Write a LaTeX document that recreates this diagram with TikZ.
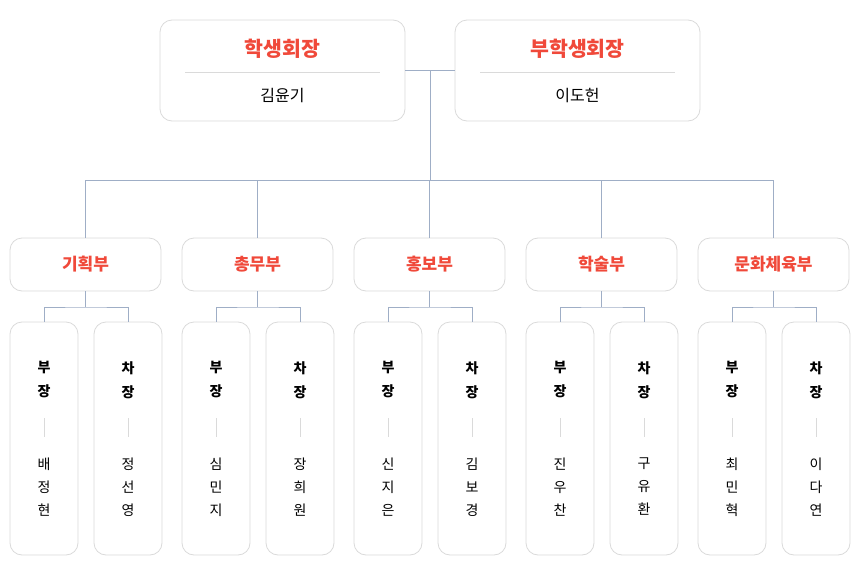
\documentclass[tikz,border=0pt]{standalone}
\usepackage{fontspec}
\setmainfont{Noto Sans CJK KR}
\definecolor{red1}{HTML}{F0493A}
\definecolor{ln}{HTML}{9FAEC6}
\definecolor{bd}{HTML}{DADADA}
\begin{document}
\begin{tikzpicture}[x=1pt,y=-1pt,
 box/.style={draw=bd,line width=0.8pt,fill=white,rounded corners=12pt,inner sep=0pt},
 conn/.style={draw=ln,line width=0.7pt},
 ttl/.style={text=red1,font=\fontsize{20.5}{22}\selectfont\bfseries},
 nm/.style={font=\fontsize{16}{17}\selectfont},
 dp/.style={text=red1,font=\fontsize{17}{18}\selectfont\bfseries},
 sb/.style={font=\fontsize{14}{24}\selectfont\bfseries,align=center},
 sn/.style={font=\fontsize{14}{23}\selectfont,align=center}]
\useasboundingbox (0,0) rectangle (860,581);
% top
\node[box,minimum width=245pt,minimum height=101pt] (p) at (282.5,70.5) {};
\node[box,minimum width=245pt,minimum height=101pt] (v) at (577.5,70.5) {};
\node[ttl] (pt) at (282.5,49) {학생회장};
\node[nm] (pn) at (282.5,96) {김윤기};
\node[ttl] (vt) at (577.5,49) {부학생회장};
\node[nm] (vn) at (577.5,96) {이도헌};
\draw[bd,line width=0.8pt] (185,72) -- (380,72);
\draw[bd,line width=0.8pt] (480,72) -- (675,72);
\coordinate (j) at (430,70.5);
\coordinate (h) at (430,180);
\path[conn] (p.east) -- (v.west);
\path[conn] (j) -- (h);
\foreach \n/\x/\t/\na/\nb in {
 1/85.5/기획부/{배\\정\\현}/{정\\선\\영},
 2/257.5/총무부/{심\\민\\지}/{장\\희\\원},
 3/429.5/홍보부/{신\\지\\은}/{김\\보\\경},
 4/601.5/학술부/{진\\우\\찬}/{구\\유\\환},
 5/773.5/문화체육부/{최\\민\\혁}/{이\\다\\연}}{
 \node[box,minimum width=151pt,minimum height=53pt] (d\n) at (\x,264.5) {};
 \node[dp] at (d\n) {\t};
 \coordinate (t\n) at (\x,180);
 \path[conn] (t\n) -- (d\n.north);
 \node[box,minimum width=68pt,minimum height=233pt] (l\n) at (\x-41.5,438.5) {};
 \node[box,minimum width=68pt,minimum height=233pt] (r\n) at (\x+42.5,438.5) {};
 \coordinate (m\n) at (\x,307);
 \path[conn] (d\n.south) -- (m\n);
 \path[conn] (l\n.north) |- (m\n) -| (r\n.north);
 \node[sb] at (\x-41.5,380) {부\\장};
 \node[sb] at (\x+42.5,380) {차\\장};
 \draw[bd,line width=0.8pt] (\x-41.5,418) -- (\x-41.5,437);
 \draw[bd,line width=0.8pt] (\x+42.5,418) -- (\x+42.5,437);
 \node[sn] at (\x-41.5,487) {\na};
 \node[sn] at (\x+42.5,487) {\nb};
}
\path[conn] (t1) -- (t5);
\end{tikzpicture}
\end{document}
